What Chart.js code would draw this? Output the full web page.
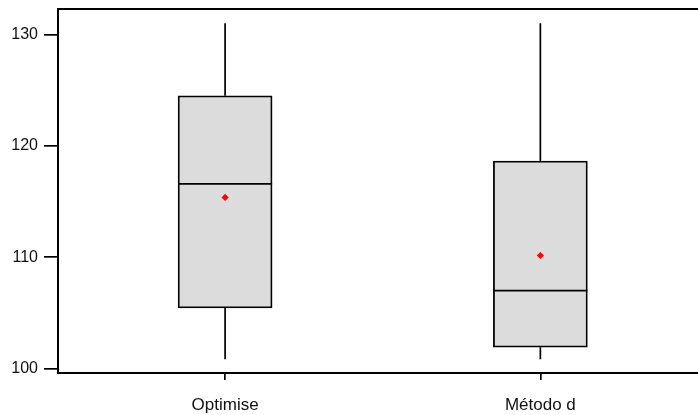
<!DOCTYPE html>
<html>
<head>
<meta charset="utf-8">
<script src="https://cdn.jsdelivr.net/npm/chart.js@4/dist/chart.umd.min.js"></script>
<style>
  html, body { margin: 0; padding: 0; background: #ffffff; }
  canvas { display: block; }
</style>
</head>
<body>
<canvas id="chart" width="698" height="415"></canvas>
<script>
// Group names and five-number summaries with means
const categories = ['Optimise', 'Método d'];
const whiskerLow  = [100.84, 100.84];
const quartile1   = [105.45, 101.92];
const medians     = [116.6, 107.01];
const means       = [115.38, 110.16];
const quartile3   = [124.51, 118.64];
const whiskerHigh = [131.02, 131.02];
const yTicks = [100, 110, 120, 130];

const positions = categories.map((_, i) => i + 1);

// Whiskers, median lines and the plot frame, drawn through the chart's scales
const boxExtras = {
  id: 'boxExtras',
  afterDatasetsDraw(chart) {
    const ctx = chart.ctx;
    const xs = chart.scales.x, ys = chart.scales.y;
    const meta = chart.getDatasetMeta(0);
    ctx.save();
    ctx.strokeStyle = '#000';
    ctx.lineWidth = 1.7;
    positions.forEach((p, i) => {
      const cx = xs.getPixelForValue(p);
      const half = meta.data[i].width / 2;
      ctx.beginPath();
      ctx.moveTo(cx, ys.getPixelForValue(quartile3[i]));
      ctx.lineTo(cx, ys.getPixelForValue(whiskerHigh[i]));
      ctx.moveTo(cx, ys.getPixelForValue(quartile1[i]));
      ctx.lineTo(cx, ys.getPixelForValue(whiskerLow[i]));
      ctx.stroke();
      ctx.beginPath();
      const my = ys.getPixelForValue(medians[i]);
      ctx.moveTo(cx - half, my);
      ctx.lineTo(cx + half, my);
      ctx.stroke();
    });
    // top edge of the frame
    const a = chart.chartArea;
    ctx.lineWidth = 2;
    ctx.beginPath();
    ctx.moveTo(a.left - 1, a.top);
    ctx.lineTo(a.right, a.top);
    ctx.stroke();
    ctx.restore();
  }
};

const family = 'Liberation Sans, Arial, sans-serif';

new Chart(document.getElementById('chart'), {
  data: {
    datasets: [
      {
        type: 'bar',
        data: positions.map((p, i) => ({ x: p, y: [quartile1[i], quartile3[i]] })),
        backgroundColor: '#dcdcdc',
        borderColor: '#000',
        borderWidth: 1.8,
        borderSkipped: false,
        barThickness: 94,
        order: 2
      },
      {
        type: 'scatter',
        data: positions.map((p, i) => ({ x: p, y: means[i] })),
        pointStyle: 'rectRot',
        radius: 3.6,
        backgroundColor: '#ff0000',
        borderColor: '#ff0000',
        borderWidth: 0,
        order: 1
      }
    ]
  },
  options: {
    responsive: false,
    animation: false,
    events: [],
    layout: { autoPadding: false, padding: { top: 9, right: 0, left: 0, bottom: 0 } },
    plugins: { legend: { display: false }, tooltip: { enabled: false } },
    scales: {
      x: {
        type: 'linear',
        offset: false,
        min: 0.47,
        max: 2.5,
        afterBuildTicks(scale) { scale.ticks = positions.map(v => ({ value: v })); },
        afterFit(scale) { scale.height = 42; scale.paddingRight = 0; scale.paddingLeft = 0; },
        ticks: {
          autoSkip: false,
          maxRotation: 0,
          color: '#111',
          font: { family, size: 17 },
          padding: 15,
          callback: v => categories[v - 1]
        },
        grid: { offset: false, drawOnChartArea: false, tickLength: 7, color: '#000', lineWidth: 1.7 },
        border: { display: true, color: '#000', width: 2 }
      },
      y: {
        type: 'linear',
        min: 99.6,
        max: 132.31,
        afterBuildTicks(scale) { scale.ticks = yTicks.map(v => ({ value: v })); },
        afterFit(scale) { scale.width = 58; scale.paddingTop = 0; scale.paddingBottom = 0; },
        ticks: { color: '#111', font: { family, size: 16 }, padding: 6 },
        grid: { drawOnChartArea: false, tickLength: 14, color: '#000', lineWidth: 1.7 },
        border: { display: true, color: '#000', width: 2 }
      }
    }
  },
  plugins: [boxExtras]
});
</script>
</body>
</html>
